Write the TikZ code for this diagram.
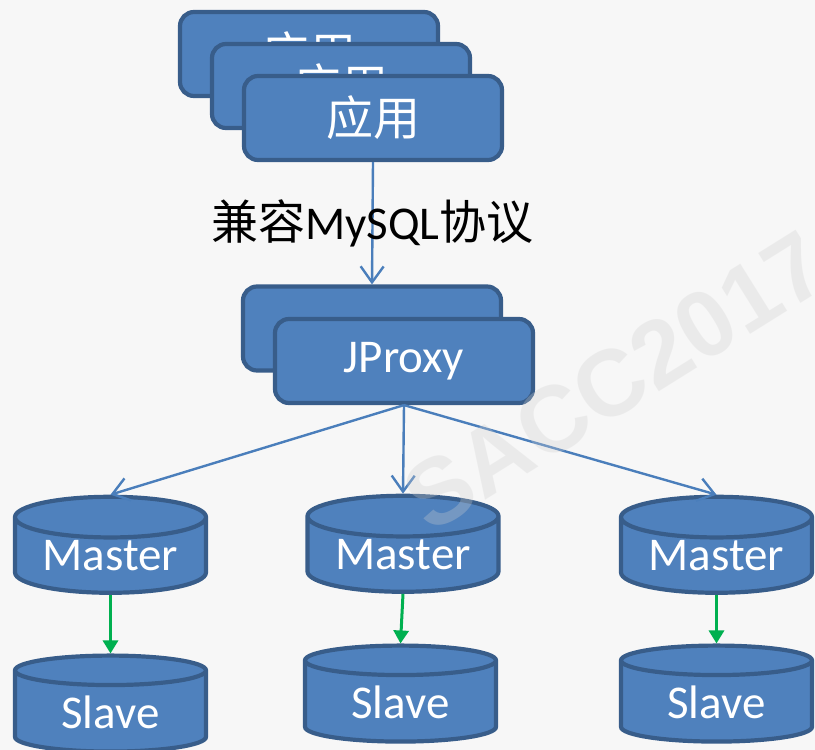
\documentclass[tikz,border=0pt]{standalone}
\usepackage{fontspec}
\setmainfont{Carlito}
\newfontfamily\cjk{Noto Sans CJK SC}
\newfontfamily\wmfont{Liberation Sans}
\usetikzlibrary{shapes.geometric,arrows.meta}
\definecolor{bg}{HTML}{F7F7F7}
\definecolor{boxfill}{HTML}{4F81BD}
\definecolor{edge}{HTML}{385D8A}
\definecolor{flowblue}{HTML}{4A7EBB}
\definecolor{replgreen}{HTML}{00B050}
\definecolor{wmgray}{HTML}{CFCFCF}
\tikzset{
  big/.style={font=\fontsize{47}{56}\selectfont},
  appbox/.style={rectangle, rounded corners=14pt, draw=edge, line width=4.2pt, fill=boxfill,
    minimum width=258pt, minimum height=84pt, text=white, inner sep=0pt, big},
  dbnode/.style={cylinder, shape border rotate=90, aspect=0.3, draw=edge, line width=4.2pt,
    fill=boxfill, minimum width=191pt, minimum height=96pt, text=white, inner sep=0pt, big},
  flow/.style={draw=flowblue, line width=2.4pt, -{Straight Barb[length=16pt,width=23pt]}},
  repl/.style={draw=replgreen, line width=3pt, -{Triangle[length=13pt,width=15pt]}},
  lab/.style={text=black, big},
  wm/.style={text=wmgray, text opacity=0.3, rotate=32, font=\wmfont\bfseries\fontsize{94}{100}\selectfont},
}
\begin{document}
\begin{tikzpicture}[x=1pt,y=-1pt]
  \useasboundingbox (0,0) rectangle (815,750);
  \fill[bg] (0,0) rectangle (815,750);

  % applications
  \node[appbox] (app1) at (309,54) {\cjk 应用};
  \node[appbox] (app2) at (341,86) {\cjk 应用};
  \node[appbox] (app3) at (373,118) {\cjk 应用};

  % proxy
  \node[appbox] (jpb) at (372,328.5) {};
  \node[appbox] (jp) at (404,361) {JProxy};

  % databases
  \node[dbnode] (m1) at (110.5,556) {Master};
  \node[dbnode] (m2) at (403,555) {Master};
  \node[dbnode] (m3) at (716.5,556) {Master};
  \node[dbnode] (s1) at (110.5,712) {Slave};
  \node[dbnode] (s2) at (400.5,702) {Slave};
  \node[dbnode] (s3) at (716.5,702) {Slave};

  \draw[flow] (app3.south) -- node[lab] {{\cjk 兼容}MySQL{\cjk 协议}} (jpb.north);
  \draw[flow] (jp.south) -- (m1.north);
  \draw[flow] (jp.south) -- (m2.north);
  \draw[flow] (jp.south) -- (m3.north);
  \draw[repl] (m1.south) -- (s1.north);
  \draw[repl] (m2.south) -- (s2.north);
  \draw[repl] (m3.south) -- (s3.north);

  \node[wm] (wmark) at (615,381) {SACC2017};
\end{tikzpicture}
\end{document}
